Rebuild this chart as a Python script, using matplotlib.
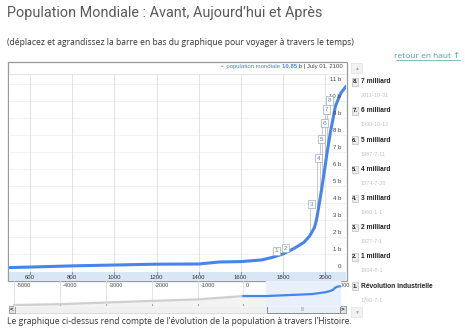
import numpy as np
import matplotlib
matplotlib.use("Agg")
import matplotlib.pyplot as plt
from matplotlib.patches import Rectangle

W, H, DPI = 465, 332, 100

# World population (billions) for the detailed view
years = [500, 600, 800, 1000, 1200, 1400, 1500, 1600, 1700, 1750, 1800, 1850, 1900,
         1927, 1950, 1960, 1974, 1987, 1999, 2011, 2025, 2050, 2075, 2100]
population = [0.20, 0.23, 0.30, 0.35, 0.40, 0.41, 0.53, 0.55, 0.65, 0.80, 1.00, 1.30, 1.68,
              2.05, 2.55, 3.02, 4.02, 5.02, 6.02, 7.02, 8.10, 9.70, 10.45, 10.85]

# Long-run series for the range selector strip
years_long = [-5000, -4000, -3000, -2000, -1000, 0, 500, 1000, 1500, 1800, 1900, 1950, 2000, 2050, 2100]
pop_long = [0.005, 0.007, 0.014, 0.027, 0.05, 0.2, 0.2, 0.3, 0.45, 1.0, 1.65, 2.5, 6.1, 9.7, 10.85]

# Annotated events
event_titles = ["Révolution industrielle", "1 milliard", "2 milliard", "3 milliard",
                "4 milliard", "5 milliard", "6 milliard", "7 milliard"]
event_dates = ["1760-7-1", "1804-8-1", "1927-7-1", "1960-1-1",
               "1974-7-20", "1987-7-11", "1999-10-12", "2011-10-31"]
flag_heights = [1.03, 1.20, 3.78, 6.48, 7.60, 8.53, 9.35, 9.88]

x_ticks = [600, 800, 1000, 1200, 1400, 1600, 1800, 2000]
y_ticks = list(range(0, 12))
long_ticks = [-5000, -4000, -3000, -2000, -1000, 0, 1000, 2000]

BLUE = "#4684ee"
SANS = ["Liberation Sans", "DejaVu Sans"]
BODY = ["Open Sans", "DejaVu Sans"]


def decimal_year(s):
    y, m, d = (int(v) for v in s.split("-"))
    return y + (m - 1) / 12 + (d - 1) / 365


event_x = [decimal_year(d) for d in event_dates]

fig = plt.figure(figsize=(W / DPI, H / DPI), dpi=DPI)
fig.patch.set_facecolor("white")


def px_axes(x0, y0, x1, y1, **kw):
    return fig.add_axes([x0 / W, 1 - y1 / H, (x1 - x0) / W, (y1 - y0) / H], **kw)


# page layer in pixel coordinates
page = px_axes(0, 0, W, H, zorder=0)
page.set_xlim(0, W)
page.set_ylim(H, 0)
page.axis("off")

page.text(7, 16.7, "Population Mondiale : Avant, Aujourd’hui et Après",
          family=["Roboto", "DejaVu Sans"], fontweight="normal", fontsize=10.4,
          color="#5a5a5a", va="baseline", ha="left")
page.text(7, 45.3, "(déplacez et agrandissez la barre en bas du graphique pour voyager à travers le temps)",
          family=BODY, fontsize=6.15, color="#333333", va="baseline", ha="left")
page.text(460, 58.5, "retour en haut ↑", family=BODY,
          fontsize=6.0, color="#4f9fa8", va="baseline", ha="right")
page.plot([396, 460], [60, 60], color="#4f9fa8", lw=0.5)
page.text(7, 324.5, "Le graphique ci-dessus rend compte de l’évolution de la population à travers l’Histoire.",
          family=BODY, fontsize=6.15, color="#333333", va="baseline", ha="left")

# chart frame, legend strip, axis band
page.add_patch(Rectangle((8, 62), 338.5, 219, fc="white", ec="#9a9a9a", lw=0.9, zorder=1))
page.plot([8.5, 346], [74, 74], color="#e2e2e2", lw=0.6, zorder=2)
page.add_patch(Rectangle((8.5, 272), 337.5, 8.5, fc="#d9e6f5", ec="none", zorder=2))

# legend text (right aligned)
legend_y = 66.5
t2 = page.text(343, legend_y, " | July 01, 2100", family=SANS, fontsize=4.3,
               color="#444444", va="center", ha="right", zorder=3)
fig.canvas.draw()
bb = t2.get_window_extent().transformed(page.transData.inverted())
t1 = page.text(bb.x0, legend_y, "10.85 b", family=SANS, fontsize=4.3,
               fontweight="bold", color=BLUE, va="center", ha="right", zorder=3)
bb = t1.get_window_extent().transformed(page.transData.inverted())
page.text(bb.x0, legend_y, "•  population mondiale ", family=SANS, fontsize=4.3,
          color=BLUE, va="center", ha="right", zorder=3)

# main chart
ax = px_axes(8.5, 74.5, 346, 272, zorder=2)
ax.set_xlim(497, 2100)
ax.set_ylim(-0.06, 11.55)
for s in ax.spines.values():
    s.set_visible(False)
ax.set_xticks([])
ax.set_yticks([])
for v in y_ticks[1:]:
    ax.axhline(v, color="#efefef", lw=0.6, zorder=0)
for v in x_ticks:
    ax.axvline(v, color="#dddddd", lw=0.6, zorder=0)
ax.plot(years, population, color=BLUE, lw=2.2, solid_capstyle="round",
        solid_joinstyle="round", zorder=3, clip_on=True)

for v in y_ticks:
    lab = "0" if v == 0 else f"{v} b"
    ax.text(0.985, v + 0.28, lab, transform=ax.get_yaxis_transform(), family=SANS,
            fontsize=4.3, color="#444444", ha="right", va="center", zorder=4)

# event flags
for i, (ex, fh) in enumerate(zip(event_x, flag_heights)):
    base = np.interp(ex, years, population)
    ax.plot([ex, ex], [base, fh], color="#b5b5b5", lw=0.5, zorder=2)
    ax.text(ex, fh, str(i + 1), family=SANS, fontsize=4.6, color=BLUE,
            ha="left", va="bottom", zorder=5,
            bbox=dict(boxstyle="square,pad=0.25", fc="white", ec="#a8a8a8", lw=0.5))

# x axis band labels and ticks
band = px_axes(8.5, 272, 346, 280.5, zorder=3)
band.set_xlim(497, 2100)
band.set_ylim(0, 1)
band.axis("off")
for v in x_ticks:
    band.plot([v, v], [0.82, 1.0], color="#666666", lw=0.5)
    band.text(v, 0.38, str(v), family=SANS, fontsize=4.3, color="#333333",
              ha="center", va="center")

# range selector strip (log scale)
ov = px_axes(8.5, 281, 346, 306, zorder=2)
ov.set_xlim(-5126, 2237)
ov.set_yscale("log")
ov.set_ylim(10 ** -2.48, 10 ** 1.99)
ov.axis("off")
for v in long_ticks:
    ov.axvline(v, color="#e0e0e0", lw=0.6, zorder=0)
    ov.plot([v, v], [10 ** -2.42, 10 ** -2.1], color="#777777", lw=0.5, zorder=1)
    ov.text(v + 60, 10 ** 1.2, str(v), family=SANS, fontsize=4.0, color="#444444",
            ha="left", va="center", zorder=1)
ov.fill_between(years_long, pop_long, 10 ** -2.48, color="#f3f3f3", zorder=0.5)
ov.plot(years_long, pop_long, color="#cfcfcf", lw=1.6, zorder=1)

# selected window
win0, win1 = 497, 2100
ov.axvspan(win0, win1, color="#e8f1fb", zorder=1.5)
yl = np.array(years_long)
mask = (yl >= 0)
ov.plot(yl[mask], np.array(pop_long)[mask], color=BLUE, lw=1.6, zorder=2)

# scrollbar
page.add_patch(Rectangle((8.5, 306), 337.5, 7, fc="#f0f0f0", ec="#cfcfcf", lw=0.5, zorder=3))
page.add_patch(Rectangle((8.5, 306), 6, 7, fc="#e4e4e4", ec="#888888", lw=0.5, zorder=4))
page.add_patch(Rectangle((340, 306), 6, 7, fc="#e4e4e4", ec="#888888", lw=0.5, zorder=4))
page.text(11.5, 309.6, "<", family=SANS, fontsize=4.5, fontweight="bold", color="#222222",
          ha="center", va="center", zorder=5)
page.text(343, 309.6, ">", family=SANS, fontsize=4.5, fontweight="bold", color="#222222",
          ha="center", va="center", zorder=5)
page.add_patch(Rectangle((266.7, 281), 73.3, 32, fc="none", ec="#8a8a8a", lw=0.7, zorder=6))
page.add_patch(Rectangle((267, 306), 73, 7, fc="#e6eef8", ec="none", zorder=4))
page.text(303, 309.8, "III", family=SANS, fontsize=3.5, color="#999999",
          ha="center", va="center", zorder=5)

# annotation list
page.add_patch(Rectangle((351, 63), 11, 10, fc="#f2f2f2", ec="#e0e0e0", lw=0.5))
page.text(356.5, 68, "▲", family=SANS, fontsize=3.5, color="#9aaad0", ha="center", va="center")
page.add_patch(Rectangle((351, 307), 11, 10, fc="#f2f2f2", ec="#e0e0e0", lw=0.5))
page.text(356.5, 312, "▼", family=SANS, fontsize=3.5, color="#9aaad0", ha="center", va="center")

row0, step = 81.7, 29.2
for k in range(len(event_titles)):
    i = len(event_titles) - 1 - k
    y = row0 + k * step
    page.add_patch(Rectangle((351.5, y - 3.8), 6.5, 7.6, fc="#ececec", ec="#bdbdbd", lw=0.5))
    page.text(354.8, y, f"{i + 1}.", family=SANS, fontsize=4.3, fontweight="bold",
              color="#222222", ha="center", va="center")
    page.text(360.5, y, event_titles[i], family=SANS, fontsize=4.8, fontweight="bold",
              color="#222222", ha="left", va="center")
    page.text(360.5, y + 14, event_dates[i], family=SANS, fontsize=4.0,
              color="#c4c4c4", ha="left", va="center")

fig.savefig("out.png", dpi=DPI, facecolor="white")
